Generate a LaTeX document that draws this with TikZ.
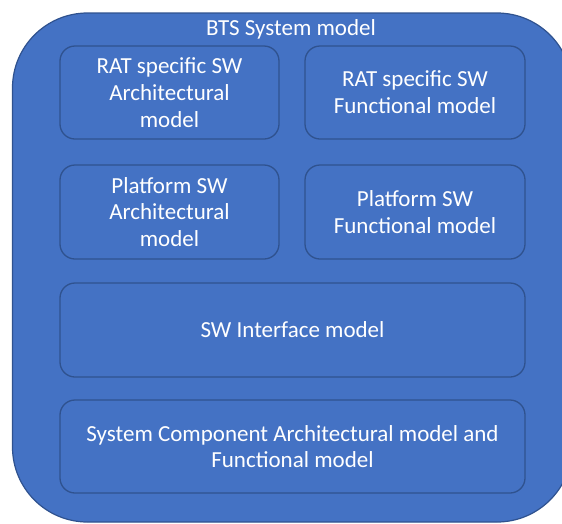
\documentclass[tikz,border=0pt]{standalone}
\usepackage{fontspec}
\setmainfont{Carlito}
\definecolor{boxfill}{HTML}{4472C4}
\definecolor{boxline}{HTML}{2F528F}
\begin{document}
\begin{tikzpicture}[x=1pt,y=-1pt,
  outerbox/.style={draw=boxline, line width=1.2pt, fill=boxfill, rounded corners=75pt},
  modelbox/.style={draw=boxline, line width=1.3pt, fill=boxfill, rounded corners=15pt,
    text=white, align=center, inner sep=0pt,
    font=\fontsize{23}{26.8}\selectfont},
  label/.style={text=white, font=\fontsize{23}{26.8}\selectfont, inner sep=0pt}]
\useasboundingbox (0,0) rectangle (562,523);
\clip (0,0) rectangle (562,523);
% system frame
\draw[outerbox] (12.5,13) rectangle (572,522);
\node[label, anchor=base] (title) at (291,35) {BTS System model};
% model blocks
\node[modelbox, minimum width=219pt, minimum height=93pt] (ratarch) at (169.5,92.5)
  {RAT specific SW\\Architectural\\model};
\node[modelbox, minimum width=220pt, minimum height=93pt] (ratfunc) at (415,92.5)
  {RAT specific SW\\Functional model};
\node[modelbox, minimum width=219pt, minimum height=94pt] (platarch) at (169.5,212)
  {Platform SW\\Architectural\\model};
\node[modelbox, minimum width=220pt, minimum height=94pt] (platfunc) at (415,212)
  {Platform SW\\Functional model};
\node[modelbox, minimum width=465pt, minimum height=94pt] (swif) at (292.5,330)
  {SW Interface model};
\node[modelbox, minimum width=465pt, minimum height=93pt] (syscomp) at (292.5,446.5)
  {System Component Architectural model and\\Functional model};
\end{tikzpicture}
\end{document}
